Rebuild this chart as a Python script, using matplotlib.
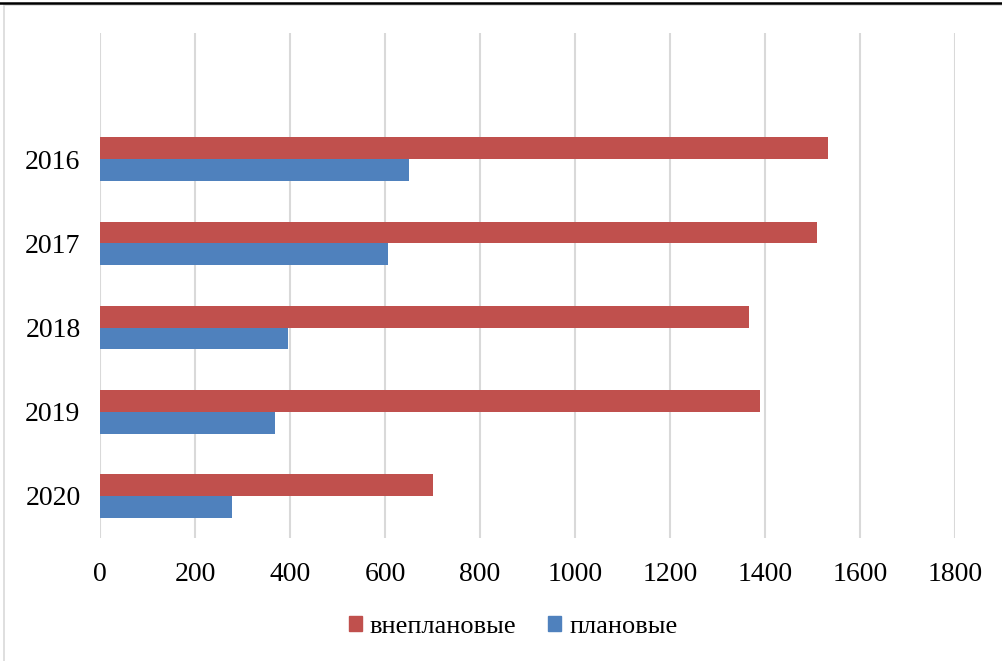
import matplotlib
matplotlib.use("Agg")
import matplotlib.pyplot as plt
from matplotlib.patches import Rectangle
from matplotlib.lines import Line2D
import numpy as np

plt.rcParams['font.family'] = ['Liberation Serif', 'DejaVu Serif']

years = ["2016", "2017", "2018", "2019", "2020"]
unplanned = [1533, 1509, 1366, 1389, 701]   # внеплановые
planned = [651, 606, 396, 368, 278]         # плановые
x_ticks = [0, 200, 400, 600, 800, 1000, 1200, 1400, 1600, 1800]

RED = "#C0504D"
BLUE = "#4F81BD"

W, H = 1003, 661
fig = plt.figure(figsize=(W / 100, H / 100), dpi=100)
ax = fig.add_axes([100 / W, 1 - 538 / H, 855 / W, 505 / H])

pos = np.arange(len(years))
bh = 0.26
ax.barh(pos - bh / 2, unplanned, height=bh, color=RED, label="внеплановые")
ax.barh(pos + bh / 2, planned, height=bh, color=BLUE, label="плановые")

ax.set_xlim(0, 1800)
ax.set_ylim(len(years) - 0.5, -1.5)
ax.set_xticks(x_ticks)
ax.set_xticklabels([str(t) for t in x_ticks])
ax.set_yticks(pos)
ax.set_yticklabels(years)
ax.tick_params(axis='both', length=0, labelsize=20)
ax.tick_params(axis='x', pad=17)
ax.tick_params(axis='y', pad=14)
ax.grid(axis='x', color="#D9D9D9", linewidth=1.5)
ax.set_axisbelow(True)
for s in ax.spines.values():
    s.set_visible(False)

handles = [Rectangle((0, 0), 1, 1, color=RED), Rectangle((0, 0), 1, 1, color=BLUE)]
fig.legend(handles, ["внеплановые", "плановые"], loc="center",
           bbox_to_anchor=(513 / W, 1 - 627 / H), ncol=2, frameon=False,
           fontsize=19, handlelength=0.5, handleheight=0.5,
           handletextpad=0.3, columnspacing=1.2)

# outer frame of the chart area
fig.patches.append(Rectangle((4 / W, -0.01), 1.02, 1 - 5 / H + 0.01,
                             transform=fig.transFigure, fill=False,
                             edgecolor="#D9D9D9", linewidth=1.2))
fig.lines.append(Line2D([0, 1], [1 - 2.5 / H, 1 - 2.5 / H],
                        transform=fig.transFigure, color="black", linewidth=1.8))

fig.savefig("out.png", dpi=100)
